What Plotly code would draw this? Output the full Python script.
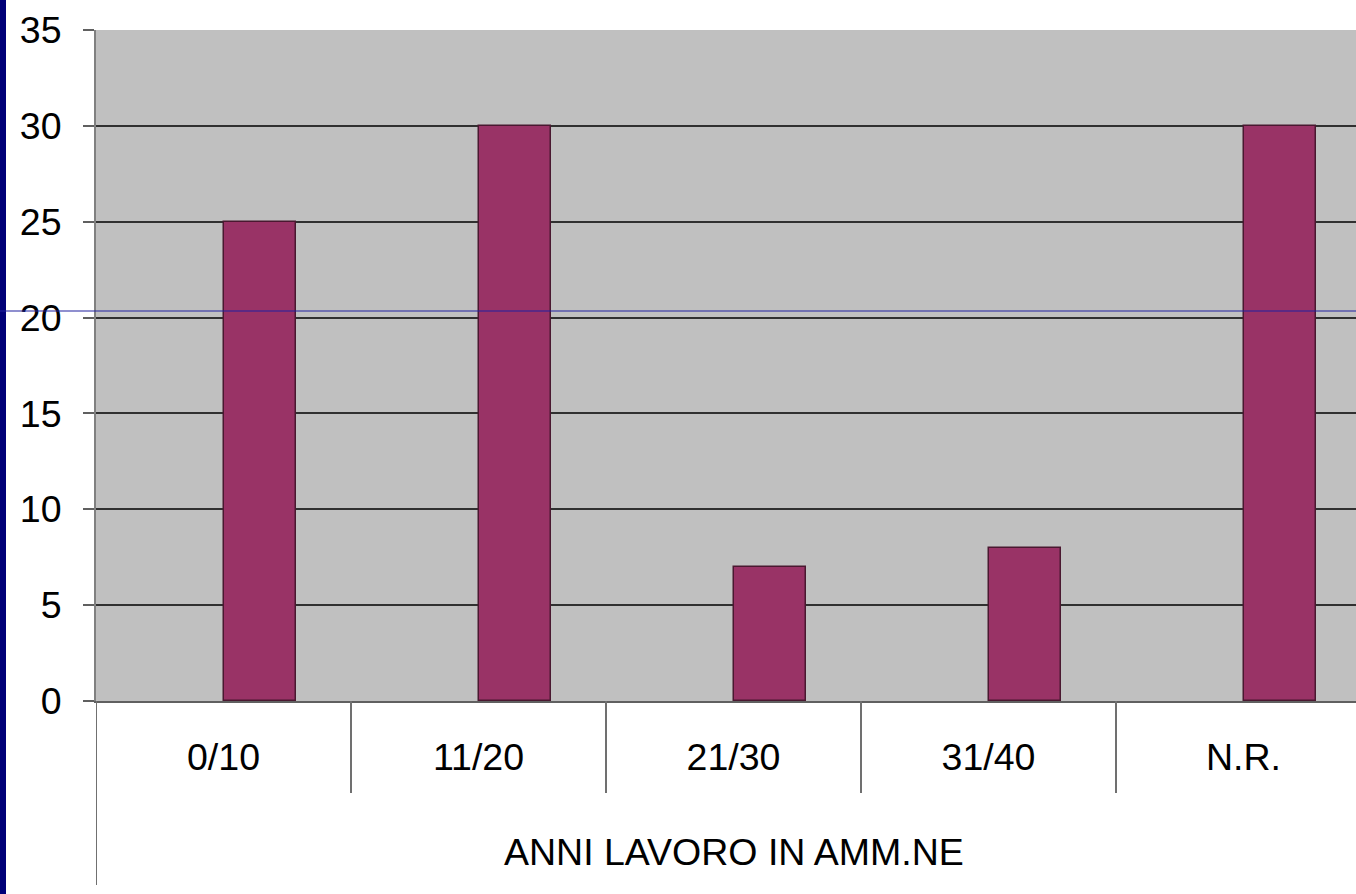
import plotly.graph_objects as go

categories = ["0/10", "11/20", "21/30", "31/40", "N.R."]
values = [25, 30, 7, 8, 30]
y_ticks = [0, 5, 10, 15, 20, 25, 30, 35]
axis_title = "ANNI LAVORO IN AMM.NE"

W, H = 1356, 894
ML, MR, MT, MB = 96, 0, 30, 193
plot_w = W - ML - MR
plot_h = H - MT - MB
cat_px = 255.0
x_lo = -0.5
x_hi = x_lo + plot_w / cat_px

xpos = list(range(len(categories)))

fig = go.Figure()
fig.add_trace(go.Bar(
    x=xpos, y=values,
    width=0.285, offset=0,
    marker=dict(color="#993366", line=dict(color="#4a1830", width=1.5)),
    hoverinfo="skip",
))

font = "Liberation Sans, Arial, sans-serif"
fsize = 37.5

shapes = []
# category dividers below the axis
for i in range(len(categories) - 1):
    shapes.append(dict(type="line", xref="x", yref="paper",
                       x0=i + 0.5, x1=i + 0.5, y0=0, y1=-(92 / plot_h),
                       line=dict(color="#707070", width=2)))
# left axis extension down through the group label
shapes.append(dict(type="line", xref="x", yref="paper",
                   x0=x_lo, x1=x_lo, y0=0, y1=-(184 / plot_h),
                   line=dict(color="#707070", width=2)))
# navy slide border on the left
shapes.append(dict(type="rect", xref="paper", yref="paper",
                   x0=-ML / plot_w, x1=-(ML - 6) / plot_w,
                   y0=-MB / plot_h - 0.01, y1=1 + MT / plot_h + 0.01,
                   fillcolor="#000078", line=dict(width=0), layer="above"))
# thin blue slide guide line
shapes.append(dict(type="line", xref="paper", yref="paper",
                   x0=-ML / plot_w, x1=1.0, y0=(701 - 311) / plot_h, y1=(701 - 311) / plot_h,
                   line=dict(color="#2020a0", width=1.2), layer="above"))

fig.update_layout(
    width=W, height=H,
    margin=dict(l=ML, r=MR, t=MT, b=MB, pad=0),
    paper_bgcolor="white",
    plot_bgcolor="#C0C0C0",
    showlegend=False,
    bargap=0,
    font=dict(family=font, size=fsize, color="black"),
    shapes=shapes,
    annotations=[dict(
        text=axis_title, xref="x", yref="paper",
        x=(len(categories) - 1) / 2, y=-(151 / plot_h),
        xanchor="center", yanchor="middle", showarrow=False,
        font=dict(family=font, size=fsize, color="black"),
    )],
    xaxis=dict(
        range=[x_lo, x_hi],
        tickmode="array", tickvals=xpos, ticktext=categories,
        ticks="", showgrid=False, zeroline=False,
        showline=True, linecolor="#606060", linewidth=2,
        ticklabelstandoff=22,
        tickfont=dict(family=font, size=fsize, color="black"),
    ),
    yaxis=dict(
        range=[0, 35],
        tickmode="array", tickvals=y_ticks,
        ticks="outside", ticklen=11, tickwidth=2, tickcolor="#606060",
        showgrid=True, gridcolor="#303030", gridwidth=1.5,
        zeroline=False,
        showline=True, linecolor="#808080", linewidth=2,
        ticklabelstandoff=14,
        tickfont=dict(family=font, size=fsize, color="black"),
    ),
)

fig.write_html("out.html")
